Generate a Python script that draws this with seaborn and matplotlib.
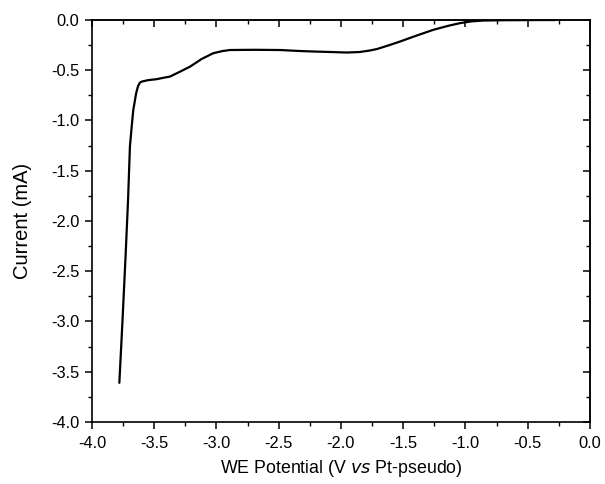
import matplotlib
matplotlib.use("Agg")
import matplotlib.pyplot as plt
import seaborn as sns
import pandas as pd
from matplotlib.ticker import MultipleLocator, FormatStrFormatter, NullFormatter

potential = [-3.78, -3.755, -3.73, -3.71, -3.695, -3.68, -3.668, -3.645, -3.63, -3.615,
             -3.60, -3.55, -3.48, -3.42, -3.373, -3.30, -3.21, -3.12, -3.026, -2.95,
             -2.89, -2.70, -2.49, -2.33, -2.22, -2.08, -1.954, -1.85, -1.767, -1.71,
             -1.62, -1.526, -1.40, -1.26, -1.14, -1.044, -0.95, -0.857, -0.70, -0.55, -0.40, -0.28]
current = [-3.61, -3.0, -2.35, -1.79, -1.26, -1.05, -0.896, -0.73, -0.66, -0.625,
           -0.614, -0.60, -0.59, -0.575, -0.564, -0.52, -0.464, -0.39, -0.332, -0.31,
           -0.30, -0.298, -0.30, -0.31, -0.315, -0.32, -0.325, -0.32, -0.305, -0.29,
           -0.255, -0.216, -0.16, -0.10, -0.06, -0.033, -0.015, -0.007, -0.004, -0.003, -0.002, -0.002]

df = pd.DataFrame({"E": potential, "I": current})

sns.set_theme(style="white")
plt.rcParams["font.family"] = ["Liberation Sans", "DejaVu Sans"]
plt.rcParams["text.color"] = "black"
plt.rcParams["axes.labelcolor"] = "black"
plt.rcParams["xtick.color"] = "black"
plt.rcParams["ytick.color"] = "black"

fig = plt.figure(figsize=(6.05, 4.84), dpi=100)
ax = fig.add_axes([0.152, 0.128, 0.823, 0.831])
sns.lineplot(data=df, x="E", y="I", sort=False, estimator=None, color="black", lw=1.6, ax=ax)

ax.set_xlim(-4.0, 0.0)
ax.set_ylim(-4.0, 0.0)
ax.xaxis.set_major_locator(MultipleLocator(0.5))
ax.xaxis.set_minor_locator(MultipleLocator(0.25))
ax.yaxis.set_major_locator(MultipleLocator(0.5))
ax.yaxis.set_minor_locator(MultipleLocator(0.25))
ax.xaxis.set_major_formatter(FormatStrFormatter("%.1f"))
ax.yaxis.set_major_formatter(FormatStrFormatter("%.1f"))
ax.tick_params(which="major", direction="out", length=5, width=1.1, labelsize=11.8,
               bottom=True, left=True, colors="black")
ax.tick_params(axis="x", which="major", pad=5)
ax.tick_params(axis="y", which="major", pad=4)
ax.tick_params(which="minor", direction="out", length=3, width=1.0, bottom=True, left=True)
for s in ax.spines.values():
    s.set_color("black")
    s.set_linewidth(1.2)

# mirrored inward ticks on top and right
sx = ax.secondary_xaxis("top")
sx.xaxis.set_major_locator(MultipleLocator(0.5))
sx.xaxis.set_minor_locator(MultipleLocator(0.25))
sx.xaxis.set_major_formatter(NullFormatter())
sx.tick_params(which="major", direction="in", length=5, width=1.1)
sx.tick_params(which="minor", direction="in", length=3, width=1.0)
sx.spines["top"].set_linewidth(1.2)
sy = ax.secondary_yaxis("right")
sy.yaxis.set_major_locator(MultipleLocator(0.5))
sy.yaxis.set_minor_locator(MultipleLocator(0.25))
sy.yaxis.set_major_formatter(NullFormatter())
sy.tick_params(which="major", direction="in", length=5, width=1.1)
sy.tick_params(which="minor", direction="in", length=3, width=1.0)
sy.spines["right"].set_linewidth(1.2)

ax.set_xlabel("WE Potential (V $\\it{vs}$ Pt-pseudo)", fontsize=12.8, labelpad=5)
ax.set_ylabel("Current (mA)", fontsize=14.5, labelpad=14)

fig.savefig("out.png", dpi=100)
